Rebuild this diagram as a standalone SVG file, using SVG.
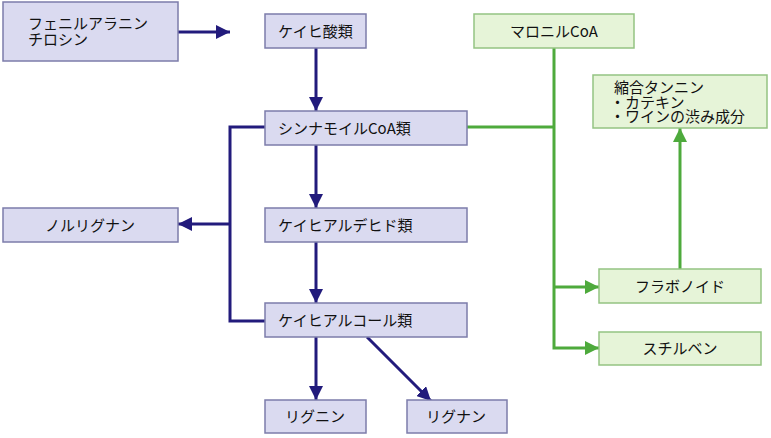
<svg xmlns="http://www.w3.org/2000/svg" width="771" height="438" viewBox="0 0 771 438">
<style>
.b rect{fill:#dadaf0;stroke:#7c7caa;stroke-width:1.5}
.g rect{fill:#e6f4d8;stroke:#94c382;stroke-width:1.5}
text{font-family:"Noto Sans CJK JP","Noto Sans",sans-serif;font-size:15px;fill:#111}
.c{text-anchor:middle}
.nv{stroke:#221b7c;stroke-width:3;fill:none}
.gr{stroke:#4eaa3c;stroke-width:3;fill:none}
</style>
<defs>
<marker id="an" markerUnits="userSpaceOnUse" markerWidth="16" markerHeight="14" refX="14" refY="7" orient="auto"><path d="M0,0 L14,7 L0,14 Z" fill="#221b7c"/></marker>
<marker id="ag" markerUnits="userSpaceOnUse" markerWidth="16" markerHeight="14" refX="14" refY="7" orient="auto"><path d="M0,0 L14,7 L0,14 Z" fill="#4eaa3c"/></marker>
</defs>
<rect width="771" height="438" fill="#fff"/>
<g id="connectors">
<path class="nv" d="M178,32 H230" marker-end="url(#an)"/>
<path class="nv" d="M316,48 V111" marker-end="url(#an)"/>
<path class="nv" d="M265,127 H230 V321 H265"/>
<path class="nv" d="M230,224 H178" marker-end="url(#an)"/>
<path class="nv" d="M316,145 V208" marker-end="url(#an)"/>
<path class="nv" d="M316,242 V303" marker-end="url(#an)"/>
<path class="nv" d="M316,337 V400" marker-end="url(#an)"/>
<path class="nv" d="M367,337 L431,401" marker-end="url(#an)"/>
<path class="gr" d="M467,127 H554"/>
<path class="gr" d="M554,48 V348 H599" marker-end="url(#ag)"/>
<path class="gr" d="M554,287 H599" marker-end="url(#ag)"/>
<path class="gr" d="M680,269 V128" marker-end="url(#ag)"/>
</g>
<g id="phe" class="b"><rect x="3" y="2" width="175" height="59"/><text x="28" y="29">フェニルアラニン<tspan x="28" dy="16">チロシン</tspan></text></g>
<g id="cinnamic" class="b"><rect x="265" y="14" width="101" height="34"/><text x="278" y="37">ケイヒ酸類</text></g>
<g id="cinnamoyl" class="b"><rect x="265" y="111" width="202" height="34"/><text x="278" y="134">シンナモイルCoA類</text></g>
<g id="norlignan" class="b"><rect x="3" y="208" width="175" height="34"/><text class="c" x="90" y="231">ノルリグナン</text></g>
<g id="aldehyde" class="b"><rect x="265" y="208" width="202" height="34"/><text x="278" y="231">ケイヒアルデヒド類</text></g>
<g id="alcohol" class="b"><rect x="265" y="303" width="202" height="34"/><text x="278" y="326">ケイヒアルコール類</text></g>
<g id="lignin" class="b"><rect x="265" y="400" width="101" height="33"/><text class="c" x="315" y="422">リグニン</text></g>
<g id="lignan" class="b"><rect x="407" y="400" width="100" height="33"/><text class="c" x="456" y="422">リグナン</text></g>
<g id="malonyl" class="g"><rect x="474" y="14" width="160" height="34"/><text class="c" x="554" y="37">マロニルCoA</text></g>
<g id="tannin" class="g"><rect x="593" y="75" width="174" height="53"/><text x="614" y="93">縮合タンニン<tspan x="610" dy="14.5">・カテキン</tspan><tspan x="610" dy="14.5">・ワインの渋み成分</tspan></text></g>
<g id="flavonoid" class="g"><rect x="599" y="269" width="162" height="34"/><text class="c" x="680" y="292">フラボノイド</text></g>
<g id="stilbene" class="g"><rect x="599" y="332" width="162" height="33"/><text class="c" x="680" y="354">スチルベン</text></g>
</svg>
